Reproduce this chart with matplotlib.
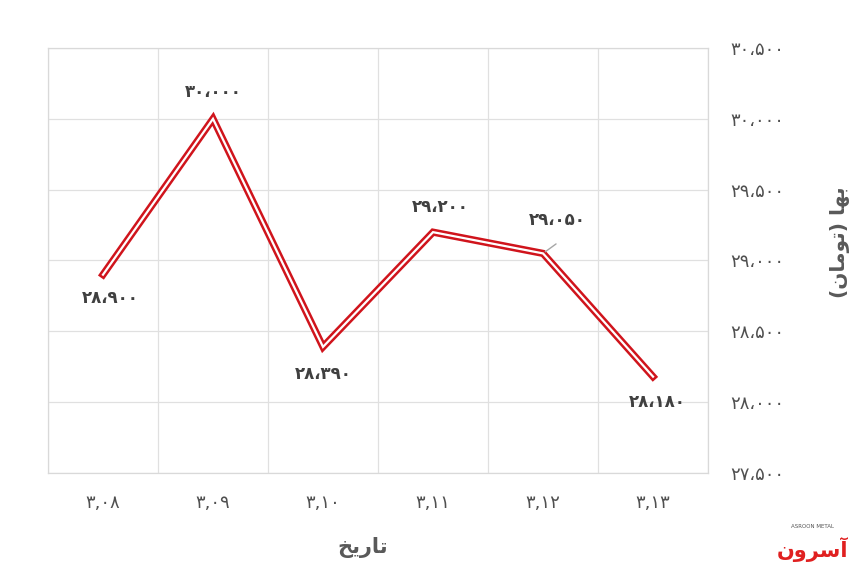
import matplotlib.pyplot as plt
import numpy as np

# data
dates = ['۳,۰۸', '۳,۰۹', '۳,۱۰', '۳,۱۱', '۳,۱۲', '۳,۱۳']
prices = [28900, 30000, 28390, 29200, 29050, 28180]
price_text = ['۲۸،۹۰۰', '۳۰،۰۰۰', '۲۸،۳۹۰', '۲۹،۲۰۰', '۲۹،۰۵۰', '۲۸،۱۸۰']
yticks = [27500, 28000, 28500, 29000, 29500, 30000, 30500]
ytick_text = ['۲۷،۵۰۰', '۲۸،۰۰۰', '۲۸،۵۰۰', '۲۹،۰۰۰', '۲۹،۵۰۰', '۳۰،۰۰۰', '۳۰،۵۰۰']

# arabic text already shaped (presentation forms, visual order)
xlabel_txt = '\uFEA6\uFEF3\uFEAD\uFE8E\uFE97'                      # تاریخ
ylabel_txt = '(\uFEE5\uFE8E\uFEE3\uFEEE\uFE97) \uFE8E\uFEEC\uFE91'  # بها (تومان)
logo_txt = '\uFEE5\uFEED\uFEAE\uFEB3\uFE81'                        # آسرون

plt.rcParams['font.family'] = ['DejaVu Sans']
fig = plt.figure(figsize=(8.6, 5.72), dpi=100)
ax = fig.add_axes([0.0558, 0.1731, 0.7675, 0.743])

x = np.arange(len(dates))
ax.plot(x, prices, '-', color='#d0141c', lw=5.2, solid_joinstyle='miter', zorder=3)
ax.plot(x, prices, '-', color='white', lw=1.6, solid_joinstyle='miter', zorder=4)

ax.set_xlim(-0.5, 5.5)
ax.set_ylim(27500, 30500)
ax.set_yticks(yticks)
ax.set_yticklabels(ytick_text)
ax.set_xticks(x)
ax.set_xticklabels(dates)
ax.set_xticks(np.arange(-0.5, 6, 1), minor=True)
ax.yaxis.tick_right()
ax.tick_params(axis='y', length=0, pad=16, labelsize=13, labelcolor='#505050')
ax.tick_params(axis='x', which='both', length=0, pad=15, labelsize=13, labelcolor='#505050')
ax.grid(True, axis='y', color='#e0e0e0', lw=0.9)
ax.grid(True, axis='x', which='minor', color='#e0e0e0', lw=0.9)
ax.grid(False, axis='x', which='major')
for s in ax.spines.values():
    s.set_color('#d9d9d9')
    s.set_linewidth(0.9)

# data labels
offsets = [(5, -17), (0, 19.5), (0, -19.5), (5, 18), (10, 24), (3, -18)]
for i, (v, t) in enumerate(zip(prices, price_text)):
    dx, dy = offsets[i]
    ax.annotate(t, (x[i], v), xytext=(dx, dy), textcoords='offset points',
                ha='center', va='center', fontsize=12, fontweight='bold', color='#404040')
# leader line for 29,050
ax.annotate('', (x[4], prices[4]), xytext=(11, 8), textcoords='offset points',
            arrowprops=dict(arrowstyle='-', color='#a6a6a6', lw=1))

fig.text(0.422, 0.043, xlabel_txt, ha='center', va='center', fontsize=15,
         fontweight='bold', color='#595959')
fig.text(0.977, 0.577, ylabel_txt, ha='center', va='center', rotation=90, fontsize=14.5,
         fontweight='bold', color='#595959')

# logo
fig.text(0.945, 0.04, logo_txt, ha='center', va='center', fontsize=15,
         fontweight='bold', color='#e02020')
fig.text(0.945, 0.08, 'ASROON METAL', ha='center', va='center', fontsize=4, color='#555555')

fig.savefig('out.png', dpi=100)
